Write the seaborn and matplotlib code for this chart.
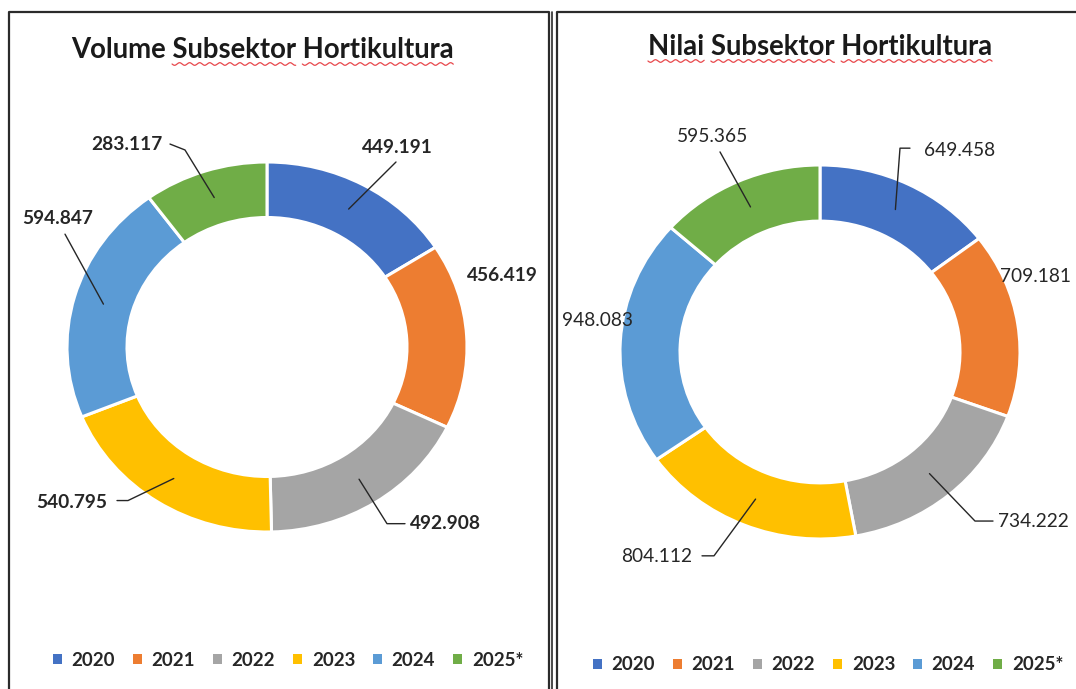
import numpy as np
import matplotlib
matplotlib.use('Agg')
import matplotlib.pyplot as plt
import seaborn as sns
from matplotlib.patches import Patch

# data
years = ['2020', '2021', '2022', '2023', '2024', '2025*']
volume = [449.191, 456.419, 492.908, 540.795, 594.847, 283.117]
nilai = [649.458, 709.181, 734.222, 804.112, 948.083, 595.365]
volume_labels = ['449.191', '456.419', '492.908', '540.795', '594.847', '283.117']
nilai_labels = ['649.458', '709.181', '734.222', '804.112', '948.083', '595.365']
colors = ['#4472C4', '#ED7D31', '#A5A5A5', '#FFC000', '#5B9BD5', '#70AD47']

sns.set_theme(style='white')
plt.rcParams['font.family'] = ['Lato', 'DejaVu Sans']

W, H = 1076, 689
fig = plt.figure(figsize=(W / 100, H / 100), dpi=100)

# background axes in pixel coords for the boxes
bg = fig.add_axes([0, 0, 1, 1])
bg.set_xlim(0, W)
bg.set_ylim(H, 0)
bg.axis('off')
for x0, x1 in [(9, 549), (557, 1090)]:
    bg.plot([x0, x0, x1, x1], [700, 12, 12, 700], color='#2b2b2b', lw=1.6)
bg.plot([552, 552], [12, 700], color='#2b2b2b', lw=1.2)


def donut(cx, cy, rx, ry, values, labels, layout, weight):
    m = 1.5
    ax = fig.add_axes([(cx - m * rx) / W, 1 - (cy + m * ry) / H, 2 * m * rx / W, 2 * m * ry / H])
    ax.pie(values, colors=colors, startangle=90, counterclock=False, radius=1,
           wedgeprops=dict(width=0.3, edgecolor='white', linewidth=2.2))
    ax.set_aspect('auto')
    ax.set_xlim(-m, m)
    ax.set_ylim(-m, m)
    ax.axis('off')

    total = sum(values)
    cum = np.cumsum([0] + list(values))
    for i, (lab, lay) in enumerate(zip(labels, layout)):
        tx, ty, ha, path = lay
        ax.text(tx, ty, lab, ha=ha, va='center', fontsize=13.8, fontweight=weight, color='#262626')
        if path:
            ang = np.deg2rad(90 - 360 * (cum[i] + values[i] / 2) / total)
            xs = [0.85 * np.cos(ang)] + [p[0] for p in path]
            ys = [0.85 * np.sin(ang)] + [p[1] for p in path]
            ax.plot(xs, ys, color='#262626', lw=1)
    return ax


# (text x, text y, ha, leader path) in donut units
layout_vol = [
    (0.475, 1.08, 'left', [(0.645, 1.0)]),
    (1.0, 0.384, 'left', None),
    (0.715, -0.955, 'left', [(0.6, -0.955), (0.69, -0.955)]),
    (-0.80, -0.838, 'right', [(-0.695, -0.83), (-0.75, -0.83)]),
    (-1.225, 0.692, 'left', [(-1.01, 0.61)]),
    (-0.525, 1.097, 'right', [(-0.41, 1.065), (-0.485, 1.097)]),
]
layout_nil = [
    (0.52, 1.075, 'left', [(0.4, 1.09), (0.45, 1.09)]),
    (0.9, 0.406, 'left', None),
    (0.89, -0.904, 'left', [(0.775, -0.904), (0.865, -0.904)]),
    (-0.64, -1.096, 'right', [(-0.53, -1.09), (-0.59, -1.09)]),
    (-1.29, 0.171, 'left', None),
    (-0.715, 1.155, 'left', [(-0.5, 1.07)]),
]

donut(267, 347, 200, 185, volume, volume_labels, layout_vol, 'bold')
donut(820, 352, 200, 187, nilai, nilai_labels, layout_nil, 'normal')

# titles with spell-check squiggles
titles = [('Volume Subsektor Hortikultura', 262, 50, [1, 2]),
          ('Nilai Subsektor Hortikultura', 820, 47, [0, 1, 2])]
fig.canvas.draw()
renderer = fig.canvas.get_renderer()
for txt, x, y, marked in titles:
    t = fig.text(x / W, 1 - y / H, txt, ha='center', va='center', fontsize=19.8, fontweight='bold',
                 color='#1a1a1a')
    fig.canvas.draw()
    bb = t.get_window_extent(renderer)
    words = txt.split(' ')
    fp = t.get_fontproperties()
    for k in marked:
        pre = ' '.join(words[:k]) + (' ' if k else '')
        w0 = renderer.get_text_width_height_descent(pre, fp, ismath=False)[0] if pre else 0
        w1 = renderer.get_text_width_height_descent(pre + words[k], fp, ismath=False)[0]
        xs = np.linspace(bb.x0 + w0, bb.x0 + w1, 200)
        ys = (H - bb.y0) + 1 + 1.3 * np.sin((xs - xs[0]) / 1.6)
        bg.plot(xs, ys, color='#e8474b', lw=0.9)

# legends
handles = [Patch(facecolor=c, edgecolor='none') for c in colors]
for cx, cy in [(288, 660), (828, 665)]:
    fig.legend(handles, years, loc='center', bbox_to_anchor=(cx / W, 1 - cy / H), ncol=6,
               frameon=False, handlelength=0.5, handleheight=0.5, handletextpad=0.5,
               columnspacing=0.95, prop={'size': 13.5, 'weight': 'bold'})

fig.savefig('out.png', dpi=100)
